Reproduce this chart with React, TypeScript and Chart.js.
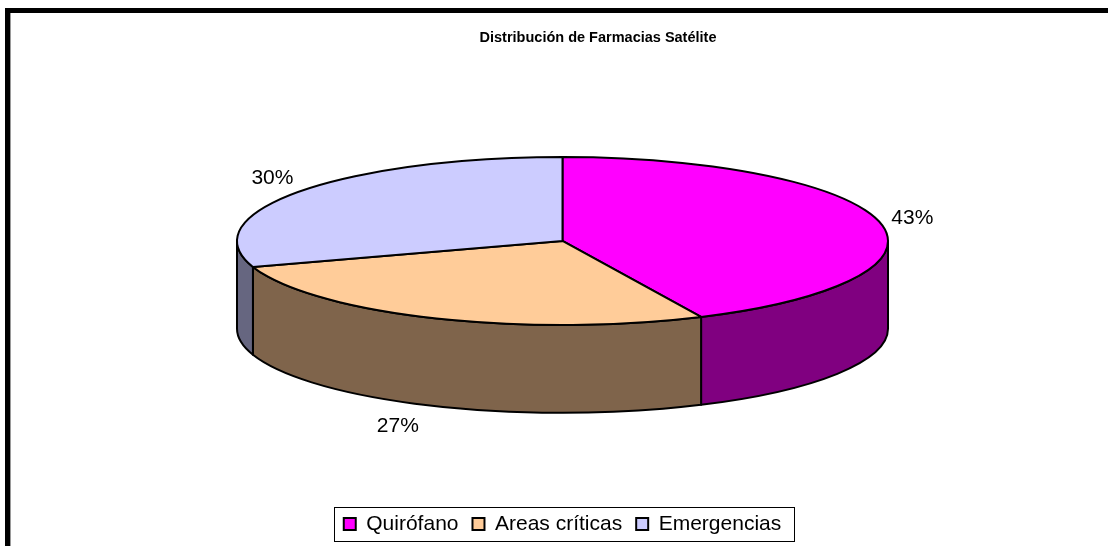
import React, { useEffect, useRef } from 'react';
import { Chart, registerables } from 'chart.js';

Chart.register(...registerables);

const TITLE = 'Distribución de Farmacias Satélite';
const categories = ['Quirófano', 'Areas críticas', 'Emergencias'];
const values = [43, 27, 30];
const topColors = ['#FF00FF', '#FFCC99', '#CCCCFF'];
const sideColors = ['#800080', '#7F644B', '#666680'];

const FONT = "'Liberation Sans', Arial, sans-serif";
const TILT = 0.258; // ry / rx
const DEPTH = 0.27; // depth / rx

const pie3d = {
  id: 'pie3d',
  beforeDraw(chart: any) {
    const { ctx, width, height } = chart;
    ctx.save();
    ctx.fillStyle = '#fff';
    ctx.fillRect(0, 0, width, height);
    // frame
    ctx.fillStyle = '#000';
    ctx.fillRect(5, 8, width - 5, 5);
    ctx.fillRect(5, 8, 5, height - 8);
    ctx.fillStyle = '#9a9a9a';
    ctx.fillRect(10, 13, 1, height - 13);
    // title
    ctx.fillStyle = '#000';
    ctx.font = `bold 14.5px ${FONT}`;
    ctx.textAlign = 'center';
    ctx.textBaseline = 'middle';
    ctx.fillText(TITLE, 598, 38);
    ctx.restore();
  },
  beforeDatasetsDraw(chart: any) {
    const { ctx, chartArea } = chart;
    const meta = chart.getDatasetMeta(0);
    const rx = (chartArea.right - chartArea.left) / 2;
    const ry = rx * TILT;
    const d = rx * DEPTH;
    const cx = (chartArea.left + chartArea.right) / 2;
    const cy = chartArea.top + ry;
    ctx.save();
    ctx.lineWidth = 2;
    ctx.strokeStyle = '#000';
    ctx.lineJoin = 'round';
    const ranges = [[0, Math.PI], [2 * Math.PI, 3 * Math.PI], [-2 * Math.PI, -Math.PI]];
    // sides
    meta.data.forEach((arc: any, i: number) => {
      const s = arc.startAngle;
      const e = arc.endAngle;
      ranges.forEach(([lo, hi]) => {
        const a = Math.max(s, lo);
        const b = Math.min(e, hi);
        if (b - a <= 1e-6) return;
        ctx.beginPath();
        ctx.ellipse(cx, cy, rx, ry, 0, a, b, false);
        ctx.lineTo(cx + rx * Math.cos(b), cy + ry * Math.sin(b) + d);
        ctx.ellipse(cx, cy + d, rx, ry, 0, b, a, true);
        ctx.closePath();
        ctx.fillStyle = sideColors[i];
        ctx.fill();
        ctx.stroke();
      });
    });
    // top faces
    meta.data.forEach((arc: any, i: number) => {
      ctx.beginPath();
      ctx.moveTo(cx, cy);
      ctx.ellipse(cx, cy, rx, ry, 0, arc.startAngle, arc.endAngle, false);
      ctx.closePath();
      ctx.fillStyle = topColors[i];
      ctx.fill();
      ctx.stroke();
    });
    // percentage labels
    const total = values.reduce((p, v) => p + v, 0);
    ctx.font = `21px ${FONT}`;
    ctx.fillStyle = '#000';
    ctx.textAlign = 'center';
    ctx.textBaseline = 'middle';
    meta.data.forEach((arc: any, i: number) => {
      const mid = (arc.startAngle + arc.endAngle) / 2;
      const c = Math.cos(mid);
      const sn = Math.sin(mid);
      const txt = Math.round((values[i] / total) * 100) + '%';
      const hw = ctx.measureText(txt).width / 2;
      const hh = 10;
      const g = sn > 0.5 ? 68 : 12;
      const px = cx + rx * c;
      const py = cy + ry * sn + (sn > 0 ? d : 0);
      ctx.fillText(txt, px + c * (hw + g), py + sn * (hh + 12));
    });
    ctx.restore();
    return false;
  },
  afterDraw(chart: any) {
    const legend = chart.legend;
    if (!legend || !legend.legendHitBoxes || !legend.legendHitBoxes.length) return;
    const hb = legend.legendHitBoxes;
    const first = hb[0];
    const last = hb[hb.length - 1];
    const { ctx } = chart;
    ctx.save();
    ctx.strokeStyle = '#000';
    ctx.lineWidth = 1;
    const left = Math.round(first.left - 10) + 0.5;
    const right = Math.round(last.left + last.width + 13) + 0.5;
    const top = Math.round(first.top - 6.5) + 0.5;
    const bottom = Math.round(first.top + first.height + 6.5) + 0.5;
    ctx.strokeRect(left, top, right - left, bottom - top);
    ctx.restore();
  },
};

export default function App() {
  const ref = useRef<HTMLCanvasElement | null>(null);
  useEffect(() => {
    if (!ref.current) return;
    const chart = new Chart(ref.current, {
      type: 'pie',
      data: {
        labels: categories,
        datasets: [
          {
            data: values,
            backgroundColor: topColors,
            borderColor: '#000',
            borderWidth: 2,
          },
        ],
      },
      options: {
        responsive: false,
        animation: false,
        devicePixelRatio: 1,
        layout: { padding: { top: 157, left: 237, right: 220, bottom: 1.5 } },
        plugins: {
          title: { display: false },
          tooltip: { enabled: false },
          legend: {
            display: true,
            position: 'bottom',
            labels: {
              boxWidth: 12,
              boxHeight: 12,
              padding: 14,
              color: '#000',
              font: { family: FONT, size: 21 },
            },
          },
        },
      },
      plugins: [pie3d],
    } as any);
    return () => chart.destroy();
  }, []);
  return (
    <div style={{ position: 'absolute', left: 0, top: 0, width: 1108, height: 546 }}>
      <canvas ref={ref} width={1108} height={546} style={{ display: 'block' }} />
    </div>
  );
}
